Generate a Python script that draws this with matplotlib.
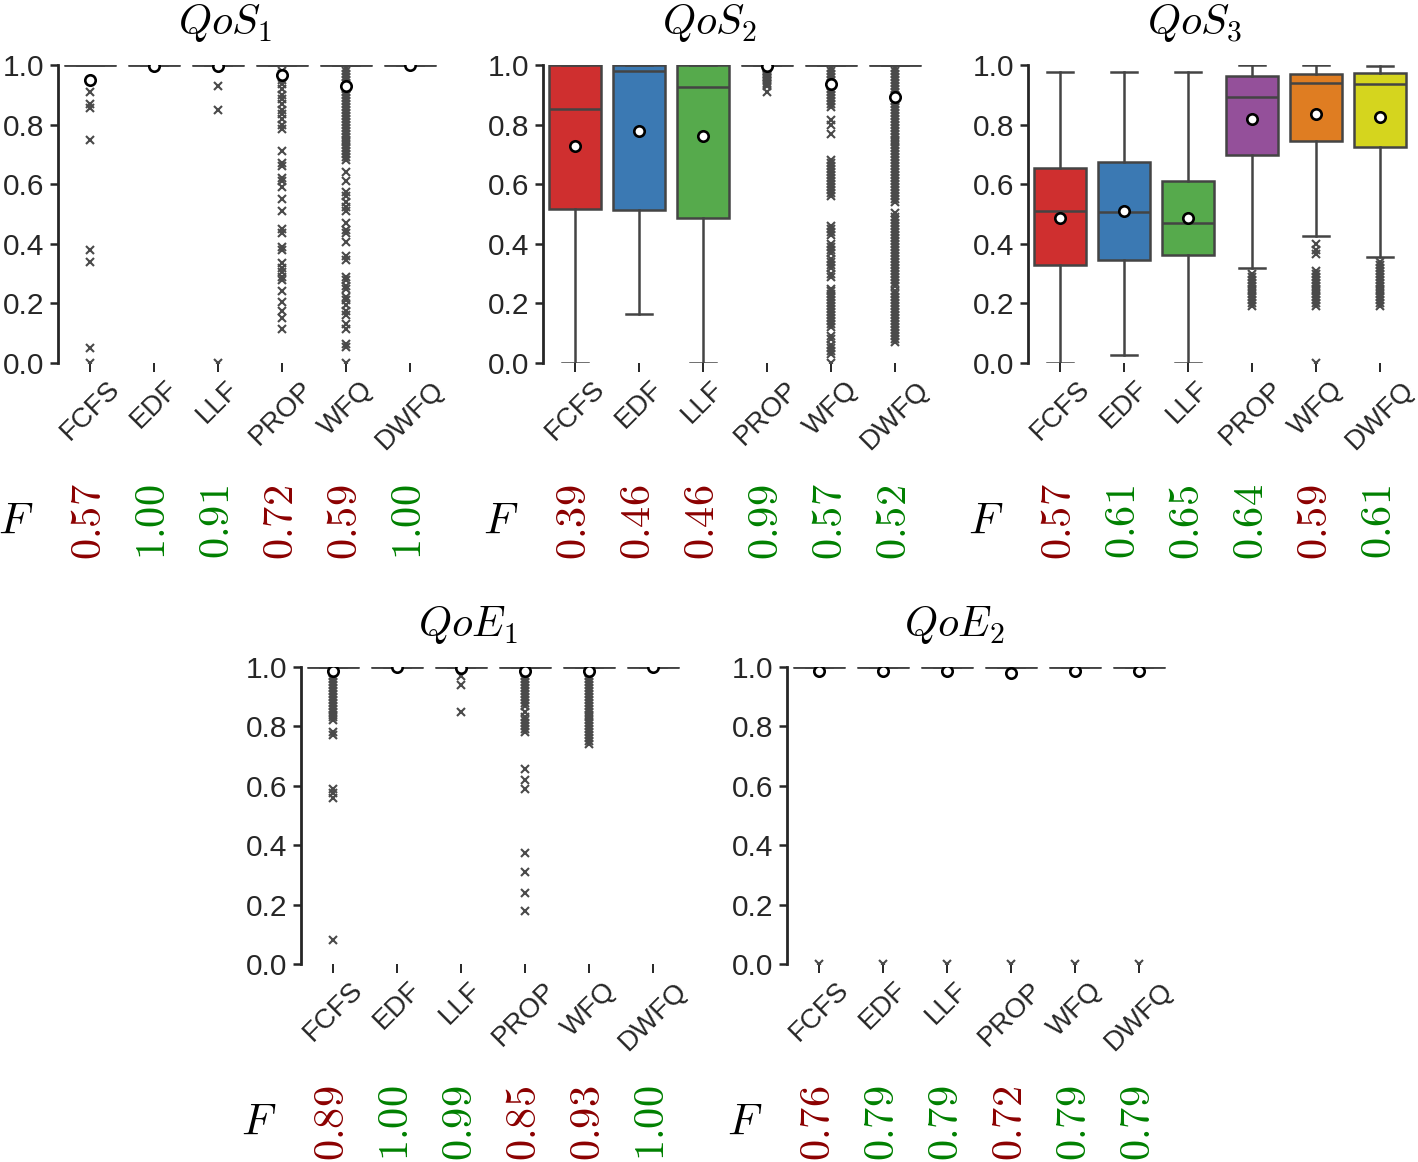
import matplotlib
matplotlib.use("Agg")
import matplotlib.pyplot as plt
from matplotlib.transforms import blended_transform_factory

plt.rcParams['font.family'] = ['Liberation Sans', 'DejaVu Sans']
plt.rcParams['mathtext.fontset'] = 'cm'

# ---------------- data ----------------
categories = ["FCFS", "EDF", "LLF", "PROP", "WFQ", "DWFQ"]
box_colors = ['#cf2f2f', '#3b79b3', '#56aa4c', '#94509a', '#df7d22', '#d5d51e']
titles = [r'$QoS_1$', r'$QoS_2$', r'$QoS_3$', r'$QoE_1$', r'$QoE_2$']

# QoS1
qos1_med = [1.0, 1.0, 1.0, 1.0, 1.0, 1.0]
qos1_q1 = [1.0, 1.0, 1.0, 1.0, 1.0, 1.0]
qos1_q3 = [1.0, 1.0, 1.0, 1.0, 1.0, 1.0]
qos1_lo = [1.0, 1.0, 1.0, 1.0, 1.0, 1.0]
qos1_hi = [1.0, 1.0, 1.0, 1.0, 1.0, 1.0]
qos1_mean = [0.950, 0.998, 0.997, 0.965, 0.929, 0.999]
qos1_fliers = [
    [0.91, 0.87, 0.855, 0.75, 0.38, 0.34, 0.05, 0.0],
    [],
    [0.93, 0.85, 0.0],
    [0.98, 0.97, 0.95, 0.935, 0.92, 0.90, 0.885, 0.87, 0.85, 0.835, 0.82, 0.80,
     0.785, 0.71, 0.67, 0.66, 0.62, 0.61, 0.59, 0.55, 0.51, 0.45, 0.435, 0.39,
     0.38, 0.335, 0.32, 0.305, 0.29, 0.28, 0.24, 0.205, 0.175, 0.15, 0.115],
    [0.99, 0.98, 0.97, 0.96, 0.95, 0.94, 0.93, 0.92, 0.91, 0.90, 0.89, 0.88,
     0.87, 0.86, 0.85, 0.84, 0.83, 0.82, 0.81, 0.80, 0.79, 0.78, 0.77, 0.76,
     0.75, 0.74, 0.73, 0.72, 0.71, 0.70, 0.69, 0.68, 0.64, 0.61, 0.575, 0.56,
     0.54, 0.525, 0.51, 0.47, 0.445, 0.435, 0.405, 0.36, 0.345, 0.29, 0.28,
     0.26, 0.25, 0.22, 0.21, 0.195, 0.175, 0.16, 0.13, 0.115, 0.065, 0.055, 0.0],
    [],
]
qos1_F = ["0.57", "1.00", "0.91", "0.72", "0.59", "1.00"]
qos1_good = [False, True, True, False, False, True]

# QoS2
qos2_med = [0.854, 0.981, 0.925, 1.0, 1.0, 1.0]
qos2_q1 = [0.516, 0.513, 0.488, 1.0, 1.0, 1.0]
qos2_q3 = [1.0, 1.0, 1.0, 1.0, 1.0, 1.0]
qos2_lo = [0.0, 0.166, 0.0, 1.0, 1.0, 1.0]
qos2_hi = [1.0, 1.0, 1.0, 1.0, 1.0, 1.0]
qos2_mean = [0.728, 0.778, 0.761, 0.995, 0.935, 0.894]
qos2_fliers = [
    [],
    [],
    [],
    [0.99, 0.985, 0.98, 0.975, 0.97, 0.965, 0.96, 0.955, 0.95, 0.945, 0.94,
     0.935, 0.93, 0.91],
    [0.99, 0.98, 0.97, 0.96, 0.95, 0.94, 0.93, 0.92, 0.91, 0.90, 0.89, 0.88,
     0.87, 0.86, 0.815, 0.80, 0.77, 0.68, 0.67, 0.66, 0.65, 0.64, 0.63, 0.62,
     0.61, 0.60, 0.59, 0.58, 0.57, 0.56, 0.46, 0.45, 0.44, 0.43, 0.40, 0.39,
     0.38, 0.37, 0.35, 0.34, 0.33, 0.32, 0.30, 0.29, 0.25, 0.24, 0.23, 0.22,
     0.21, 0.20, 0.19, 0.18, 0.17, 0.16, 0.15, 0.14, 0.13, 0.12, 0.09, 0.08,
     0.06, 0.05, 0.04, 0.03, 0.0],
    [0.99, 0.98, 0.97, 0.96, 0.95, 0.94, 0.93, 0.92, 0.91, 0.90, 0.89, 0.88,
     0.87, 0.86, 0.85, 0.84, 0.83, 0.82, 0.81, 0.80, 0.79, 0.78, 0.77, 0.76,
     0.75, 0.74, 0.73, 0.72, 0.71, 0.70, 0.69, 0.68, 0.67, 0.66, 0.65, 0.64,
     0.63, 0.62, 0.61, 0.60, 0.59, 0.58, 0.57, 0.56, 0.55, 0.54, 0.505, 0.49,
     0.48, 0.47, 0.46, 0.45, 0.44, 0.43, 0.42, 0.41, 0.40, 0.39, 0.38, 0.37,
     0.36, 0.35, 0.34, 0.33, 0.32, 0.31, 0.30, 0.29, 0.28, 0.27, 0.26, 0.24,
     0.23, 0.22, 0.21, 0.20, 0.19, 0.18, 0.17, 0.16, 0.15, 0.14, 0.13, 0.12,
     0.11, 0.10, 0.09, 0.08, 0.07],
]
qos2_F = ["0.39", "0.46", "0.46", "0.99", "0.57", "0.52"]
qos2_good = [False, False, False, True, True, True]

# QoS3
qos3_med = [0.511, 0.507, 0.470, 0.894, 0.941, 0.935]
qos3_q1 = [0.328, 0.345, 0.362, 0.697, 0.746, 0.726]
qos3_q3 = [0.653, 0.675, 0.610, 0.964, 0.970, 0.974]
qos3_lo = [0.0, 0.028, 0.0, 0.320, 0.426, 0.356]
qos3_hi = [0.975, 0.975, 0.975, 1.0, 1.0, 0.995]
qos3_mean = [0.488, 0.511, 0.488, 0.819, 0.835, 0.826]
qos3_fliers = [
    [],
    [],
    [],
    [0.30, 0.29, 0.28, 0.27, 0.26, 0.25, 0.24, 0.23, 0.22, 0.21, 0.20, 0.19],
    [0.40, 0.38, 0.365, 0.31, 0.30, 0.29, 0.28, 0.27, 0.26, 0.25, 0.24, 0.23,
     0.22, 0.21, 0.20, 0.19, 0.0],
    [0.34, 0.33, 0.32, 0.31, 0.30, 0.29, 0.28, 0.27, 0.26, 0.25, 0.24, 0.23,
     0.22, 0.21, 0.20, 0.19],
]
qos3_F = ["0.57", "0.61", "0.65", "0.64", "0.59", "0.61"]
qos3_good = [False, True, True, True, False, True]

# QoE1
qoe1_med = [1.0, 1.0, 1.0, 1.0, 1.0, 1.0]
qoe1_q1 = [1.0, 1.0, 1.0, 1.0, 1.0, 1.0]
qoe1_q3 = [1.0, 1.0, 1.0, 1.0, 1.0, 1.0]
qoe1_lo = [1.0, 1.0, 1.0, 1.0, 1.0, 1.0]
qoe1_hi = [1.0, 1.0, 1.0, 1.0, 1.0, 1.0]
qoe1_mean = [0.988, 0.999, 0.995, 0.987, 0.988, 0.999]
qoe1_fliers = [
    [0.99, 0.98, 0.97, 0.96, 0.95, 0.94, 0.93, 0.92, 0.91, 0.90, 0.89, 0.88,
     0.87, 0.86, 0.85, 0.84, 0.83, 0.82, 0.78, 0.77, 0.59, 0.575, 0.56, 0.08],
    [],
    [0.97, 0.94, 0.85],
    [0.99, 0.98, 0.97, 0.96, 0.95, 0.94, 0.93, 0.92, 0.91, 0.90, 0.89, 0.88,
     0.87, 0.85, 0.83, 0.82, 0.81, 0.80, 0.79, 0.78, 0.655, 0.62, 0.59, 0.375,
     0.31, 0.24, 0.18],
    [0.99, 0.98, 0.97, 0.96, 0.95, 0.94, 0.93, 0.92, 0.91, 0.90, 0.89, 0.88,
     0.87, 0.86, 0.85, 0.84, 0.83, 0.82, 0.81, 0.80, 0.79, 0.78, 0.77, 0.76,
     0.75, 0.74],
    [],
]
qoe1_F = ["0.89", "1.00", "0.99", "0.85", "0.93", "1.00"]
qoe1_good = [False, True, True, False, False, True]

# QoE2
qoe2_med = [1.0, 1.0, 1.0, 1.0, 1.0, 1.0]
qoe2_q1 = [1.0, 1.0, 1.0, 1.0, 1.0, 1.0]
qoe2_q3 = [1.0, 1.0, 1.0, 1.0, 1.0, 1.0]
qoe2_lo = [1.0, 1.0, 1.0, 1.0, 1.0, 1.0]
qoe2_hi = [1.0, 1.0, 1.0, 1.0, 1.0, 1.0]
qoe2_mean = [0.985, 0.988, 0.988, 0.981, 0.988, 0.988]
qoe2_fliers = [[0.0], [0.0], [0.0], [0.0], [0.0], [0.0]]
qoe2_F = ["0.76", "0.79", "0.79", "0.72", "0.79", "0.79"]
qoe2_good = [False, True, True, False, True, True]

panels = [
    (qos1_med, qos1_q1, qos1_q3, qos1_lo, qos1_hi, qos1_mean, qos1_fliers, qos1_F, qos1_good),
    (qos2_med, qos2_q1, qos2_q3, qos2_lo, qos2_hi, qos2_mean, qos2_fliers, qos2_F, qos2_good),
    (qos3_med, qos3_q1, qos3_q3, qos3_lo, qos3_hi, qos3_mean, qos3_fliers, qos3_F, qos3_good),
    (qoe1_med, qoe1_q1, qoe1_q3, qoe1_lo, qoe1_hi, qoe1_mean, qoe1_fliers, qoe1_F, qoe1_good),
    (qoe2_med, qoe2_q1, qoe2_q3, qoe2_lo, qoe2_hi, qoe2_mean, qoe2_fliers, qoe2_F, qoe2_good),
]

# ---------------- layout (pixels) ----------------
W, H = 1418, 1162
fig = plt.figure(figsize=(W / 100, H / 100), dpi=100)
ax_w = 384
rects = [(58, 65, 363), (543, 65, 363), (1028, 65, 363), (301, 667, 964), (787, 667, 964)]

line_c = '#444444'
dark = '#262626'

for i, (left, top, bottom) in enumerate(rects):
    ax = fig.add_axes([left / W, 1 - bottom / H, ax_w / W, (bottom - top) / H])
    med, q1, q3, lo, hi, mean, fl, Fv, good = panels[i]
    stats = []
    for j in range(len(categories)):
        stats.append(dict(med=med[j], q1=q1[j], q3=q3[j], whislo=lo[j],
                          whishi=hi[j], mean=mean[j], fliers=fl[j],
                          label=categories[j]))
    bp = ax.bxp(stats, positions=list(range(6)), widths=0.8, patch_artist=True,
                showmeans=True,
                boxprops=dict(edgecolor=line_c, linewidth=1.8),
                whiskerprops=dict(color=line_c, linewidth=1.8),
                capprops=dict(color=line_c, linewidth=1.8),
                medianprops=dict(color=line_c, linewidth=1.8),
                meanprops=dict(marker='o', markerfacecolor='white',
                               markeredgecolor='black', markersize=7.5,
                               markeredgewidth=1.9),
                flierprops=dict(marker='x', markeredgecolor='#4a4a4a',
                                markersize=5.2, markeredgewidth=1.5,
                                linestyle='none'))
    for patch, c in zip(bp['boxes'], box_colors):
        patch.set_facecolor(c)
    for m in bp['means']:
        m.set_zorder(5)
    ax.set_xlim(-0.5, 5.5)
    ax.set_ylim(0, 1)
    ax.set_yticks([0.0, 0.2, 0.4, 0.6, 0.8, 1.0])
    ax.set_yticklabels(['0.0', '0.2', '0.4', '0.6', '0.8', '1.0'])
    ax.set_xticks(list(range(6)))
    ax.set_xticklabels(categories, rotation=45, ha='center')
    for s in ['top', 'right', 'bottom']:
        ax.spines[s].set_visible(False)
    ax.spines['left'].set_color(dark)
    ax.spines['left'].set_linewidth(2.0)
    ax.tick_params(axis='y', direction='out', length=6, width=1.8,
                   color=dark, labelcolor=dark, labelsize=21.5, pad=4)
    ax.tick_params(axis='x', direction='out', length=6.5, width=1.4,
                   color=dark, labelcolor=dark, labelsize=20, pad=3)
    ax.set_title(titles[i], fontsize=30.5, pad=22, x=0.5 - 25.0 / ax_w)

    trans = blended_transform_factory(ax.transData, ax.transAxes)
    hax = bottom - top
    yF = -159.0 / hax
    for j in range(6):
        ax.text(j, yF, '$' + Fv[j] + '$', transform=trans, rotation=90,
                ha='center', va='center', fontsize=30.5,
                color='#008000' if good[j] else '#8b0000', clip_on=False)
    ax.text(-42.0 / ax_w, yF, '$F$', transform=ax.transAxes, ha='center',
            va='center', fontsize=32, color='black', clip_on=False)

fig.savefig('out.png', dpi=100)
